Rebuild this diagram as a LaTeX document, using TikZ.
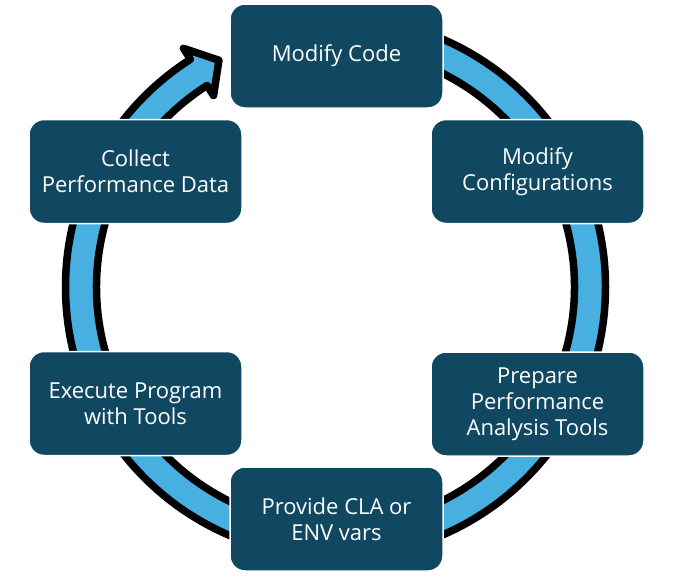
\documentclass[tikz,border=0pt]{standalone}
\usepackage{fontspec}
\setmainfont{Open Sans}
\usetikzlibrary{calc}
\definecolor{boxfill}{RGB}{16,72,98}
\definecolor{ringblue}{RGB}{71,176,225}
\tikzset{
  stagebox/.style={draw=white, line width=1.5pt, fill=boxfill, rounded corners=15pt,
    minimum width=213pt, minimum height=104pt, inner sep=0pt, align=center,
    text=white, font=\fontsize{22}{25.8}\selectfont},
  ringshape/.style={draw=black, line width=7.5pt, line join=round, fill=ringblue}
}
\begin{document}
\begin{tikzpicture}
\useasboundingbox (0pt,0pt) rectangle (696pt,-582pt);
\coordinate (C) at (335.5pt,-287pt);
\draw[ringshape]
  ($(C)+(90:270pt)$) arc[start angle=90, end angle=-237.5, radius=270pt]
  -- ($(C)+(122.5:283pt)$)
  -- ($(C)+(117.2:255pt)$)
  -- ($(C)+(122.5:227pt)$)
  -- ($(C)+(122.5:239pt)$)
  arc[start angle=122.5, end angle=450, radius=239pt]
  -- cycle;
\node[stagebox] (code) at (336.5pt,-56pt) {Modify Code};
\node[stagebox] (config) at (537.5pt,-171.5pt) {Modify\\Configurations};
\node[stagebox] (prep) at (537.5pt,-404pt) {Prepare\\Performance\\Analysis Tools};
\node[stagebox] (prov) at (336.5pt,-519pt) {Provide CLA or\\ENV vars};
\node[stagebox] (exec) at (135.5pt,-403.5pt) {Execute Program\\with Tools};
\node[stagebox] (coll) at (135.5pt,-171.5pt) {Collect\\Performance Data};
\end{tikzpicture}
\end{document}
